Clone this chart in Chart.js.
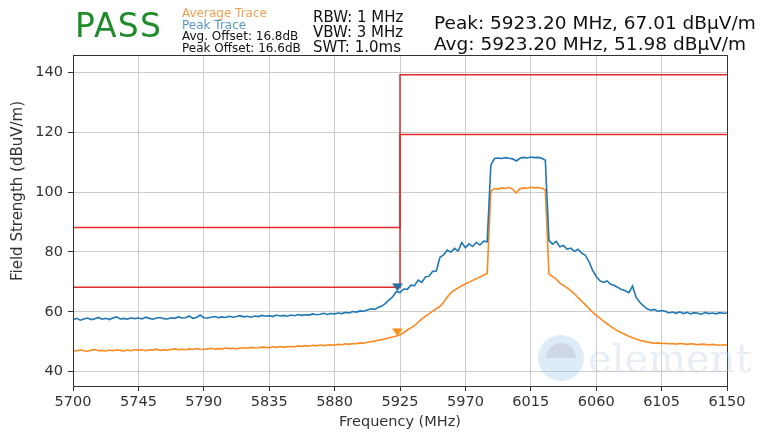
<!DOCTYPE html>
<html>
<head>
<meta charset="utf-8">
<script src="https://cdn.jsdelivr.net/npm/chart.js@4.4.1/dist/chart.umd.min.js"></script>
<style>
  html, body { margin: 0; padding: 0; background: #fff; }
  #wrap { position: relative; width: 763px; height: 433px; overflow: hidden; font-family: "DejaVu Sans", sans-serif; }
  #chart { position: absolute; left: 0; top: 0; }
  .hdr { position: absolute; white-space: pre; color: #111; }
  #pass { left: 75px; top: 9px; font-size: 33px; line-height: 33px; letter-spacing: 1.2px; color: #1f8b2a; }
  #legend { left: 182px; top: 8px; font-size: 12px; line-height: 11.55px; }
  #settings { left: 313px; top: 9.5px; font-size: 15px; line-height: 15.2px; }
  #readout { left: 434px; top: 12px; font-size: 18.5px; line-height: 21.3px; }
</style>
</head>
<body>
<div id="wrap">
  <canvas id="chart" width="763" height="433"></canvas>
  <div class="hdr" id="pass">PASS</div>
  <div class="hdr" id="legend"><span style="color:#f0a050">Average Trace</span><br><span style="color:#5a96c8">Peak Trace</span><br>Avg. Offset: 16.8dB<br>Peak Offset: 16.6dB</div>
  <div class="hdr" id="settings">RBW: 1 MHz<br>VBW: 3 MHz<br>SWT: 1.0ms</div>
  <div class="hdr" id="readout">Peak: 5923.20 MHz, 67.01 dBµV/m<br>Avg: 5923.20 MHz, 51.98 dBµV/m</div>
</div>
<script>
// --------------------
// Data
// --------------------
// sweep: 5700 MHz to 6150 MHz, one point every 2.5 MHz
const SWEEP_START = 5700;
const SWEEP_STEP = 2.5;

// peak detector trace (dBuV/m)
const peakTrace = [
  57.3, 57.8, 57.2, 57.6, 57.9, 57.4, 57.7, 58.1, 57.5, 57.8,
  57.4, 57.9, 58.3, 57.6, 57.8, 57.5, 58.0, 57.7, 57.9, 57.6,
  58.2, 57.8, 57.5, 57.9, 58.1, 57.7, 57.6, 58.0, 57.8, 58.3,
  57.9, 58.0, 58.6, 57.8, 58.1, 58.9, 58.0, 57.9, 58.2, 58.4,
  58.0, 58.3, 58.1, 58.5, 58.2, 58.4, 58.7, 58.3, 58.5, 58.2,
  58.6, 58.4, 58.8, 58.5, 58.7, 58.4, 58.9, 58.6, 58.8, 58.5,
  58.9, 58.7, 59.1, 58.8, 59.0, 58.9, 59.3, 59.0, 59.2, 59.5,
  59.1, 59.4, 59.3, 59.6, 59.4, 59.8, 59.6, 60.1, 59.9, 60.3,
  60.2, 60.6, 61.0, 60.8, 61.4, 61.9, 62.8, 64.0, 65.0, 66.8,
  66.4, 67.6, 67.5, 68.9, 68.7, 70.6, 69.8, 71.6, 71.9, 73.5,
  73.6, 78.2, 79.0, 80.6, 79.9, 81.2, 80.3, 83.1, 81.4, 82.7,
  81.8, 83.2, 82.3, 83.6, 83.4, 109.0, 111.2, 111.4, 111.2, 111.5,
  111.3, 111.1, 110.4, 111.3, 111.6, 111.4, 111.7, 111.5, 111.6, 111.3,
  110.6, 83.8, 82.6, 83.5, 81.7, 82.2, 80.9, 81.3, 80.2, 80.9,
  79.6, 78.9, 76.8, 73.9, 71.8, 70.4, 69.8, 70.3, 69.2, 68.8,
  68.1, 67.4, 67.0, 66.4, 68.6, 64.8, 63.2, 62.0, 61.0, 60.5,
  60.8, 60.1, 60.4, 60.2, 59.6, 59.9, 59.5, 60.0, 59.4, 59.8,
  59.3, 59.7, 59.5, 59.2, 59.8, 59.4, 59.6, 59.3, 59.7, 59.5,
  59.6
];

// average detector trace (dBuV/m)
const avgTrace = [
  47.1, 46.9, 47.3, 47.0, 46.8, 47.2, 47.4, 47.0, 47.1, 46.9,
  47.2, 47.0, 47.3, 47.1, 46.9, 47.2, 47.0, 47.4, 47.1, 47.3,
  47.0, 47.3, 47.2, 47.5, 47.1, 47.3, 47.2, 47.4, 47.6, 47.3,
  47.5, 47.3, 47.6, 47.4, 47.7, 47.5, 47.4, 47.6, 47.8, 47.5,
  47.7, 47.6, 47.9, 47.7, 47.8, 47.6, 47.9, 48.0, 47.8, 48.1,
  47.9, 48.0, 48.2, 48.1, 48.0, 48.3, 48.1, 48.4, 48.2, 48.3,
  48.4, 48.3, 48.6, 48.5, 48.7, 48.5, 48.8, 48.6, 48.9, 48.7,
  48.9, 49.0, 48.8, 49.1, 49.0, 49.3, 49.1, 49.4, 49.3, 49.6,
  49.5, 49.8, 50.0, 50.2, 50.5, 50.7, 51.0, 51.3, 51.6, 51.9,
  52.3, 53.0, 53.9, 54.6, 55.4, 56.5, 57.6, 58.5, 59.3, 60.2,
  61.0, 61.8, 63.2, 64.9, 66.3, 67.2, 68.0, 68.7, 69.3, 69.9,
  70.5, 71.0, 71.6, 72.2, 72.9, 100.2, 101.2, 101.0, 101.4, 101.2,
  101.5, 101.0, 99.7, 101.1, 101.4, 101.3, 101.6, 101.4, 101.5, 101.3,
  100.8, 72.6, 71.8, 70.9, 69.6, 68.8, 68.0, 67.1, 66.0, 64.7,
  63.6, 62.4, 61.1, 59.9, 58.8, 57.9, 56.9, 56.0, 55.1, 54.3,
  53.6, 53.0, 52.4, 51.8, 51.3, 50.9, 50.5, 50.2, 49.9, 49.7,
  49.5, 49.6, 49.4, 49.5, 49.3, 49.4, 49.2, 49.4, 49.3, 49.1,
  49.3, 49.2, 49.0, 49.2, 49.1, 48.9, 49.1, 49.0, 48.8, 49.0,
  48.9
];

// limit lines (step at the band edge)
const limitFreqs = [5700, 5925, 5925, 6150];
const peakLimit = [88.2, 88.2, 139.2, 139.2];
const avgLimit = [68.2, 68.2, 119.2, 119.2];

// worst-case markers
const markerFreq = 5923.20;
const peakMarker = 67.01;
const avgMarker = 51.98;

const xTicks = [5700, 5745, 5790, 5835, 5880, 5925, 5970, 6015, 6060, 6105, 6150];
const yTicks = [40, 60, 80, 100, 120, 140];

const xTitle = 'Frequency (MHz)';
const yTitle = 'Field Strength (dBuV/m)';
const watermark = 'element';

// Colors
const colors = {
  peak: '#1f77b4',
  avg: '#fb8a22',
  limit: '#de2b2b',
  grid: '#cccccc',
  axis: '#333333',
  peakMarker: '#2a6c9c',
  avgMarker: '#f7901e'
};

// --------------------
// Helpers
// --------------------
function toPoints(xs, ys) {
  return ys.map((y, i) => ({ x: xs[i], y: y }));
}

function sweepPoints(values) {
  return values.map((y, i) => ({ x: SWEEP_START + i * SWEEP_STEP, y: y }));
}

// down-pointing triangle with its tip at the centre of the image
function makeMarker(color) {
  const c = document.createElement('canvas');
  c.width = 12;
  c.height = 16;
  const g = c.getContext('2d');
  g.fillStyle = color;
  g.beginPath();
  g.moveTo(0.5, 0.5);
  g.lineTo(11.5, 0.5);
  g.lineTo(6, 8.5);
  g.closePath();
  g.fill();
  return c;
}

function lineSet(label, data, color, width) {
  return {
    label: label,
    data: data,
    borderColor: color,
    backgroundColor: color,
    borderWidth: width,
    pointRadius: 0,
    tension: 0,
    fill: false
  };
}

// --------------------
// Plugins
// --------------------
const framePlugin = {
  id: 'frame',
  afterDraw(chart) {
    const { ctx, chartArea: a } = chart;
    ctx.save();
    ctx.strokeStyle = colors.axis;
    ctx.lineWidth = 1;
    ctx.strokeRect(Math.round(a.left) + 0.5, Math.round(a.top) + 0.5,
      Math.round(a.right - a.left), Math.round(a.bottom - a.top));
    ctx.restore();
  }
};

const yTitlePlugin = {
  id: 'yTitle',
  afterDraw(chart) {
    const ctx = chart.ctx;
    ctx.save();
    ctx.translate(18.5, 191);
    ctx.rotate(-Math.PI / 2);
    ctx.font = '15px "DejaVu Sans"';
    ctx.fillStyle = colors.axis;
    ctx.textAlign = 'center';
    ctx.textBaseline = 'middle';
    ctx.fillText(yTitle, 0, 0);
    ctx.restore();
  }
};

const watermarkPlugin = {
  id: 'watermark',
  afterDraw(chart) {
    const ctx = chart.ctx;
    ctx.save();
    ctx.fillStyle = 'rgba(160, 200, 235, 0.35)';
    ctx.beginPath();
    ctx.arc(561, 358, 23, 0, Math.PI * 2);
    ctx.fill();
    ctx.fillStyle = 'rgba(190, 190, 210, 0.45)';
    ctx.beginPath();
    ctx.arc(561, 358, 15, Math.PI, 0);
    ctx.fill();
    ctx.font = '40px "DejaVu Serif"';
    ctx.fillStyle = 'rgba(185, 205, 225, 0.35)';
    ctx.textBaseline = 'alphabetic';
    ctx.fillText(watermark, 588, 372);
    ctx.restore();
  }
};

// --------------------
// Chart
// --------------------
const tickFont = { family: 'DejaVu Sans', size: 14.5 };

new Chart(document.getElementById('chart').getContext('2d'), {
  type: 'line',
  data: {
    datasets: [
      {
        label: 'Peak marker',
        data: [{ x: markerFreq, y: peakMarker }],
        showLine: false,
        pointStyle: makeMarker(colors.peakMarker)
      },
      {
        label: 'Avg marker',
        data: [{ x: markerFreq, y: avgMarker }],
        showLine: false,
        pointStyle: makeMarker(colors.avgMarker)
      },
      lineSet('Peak Limit', toPoints(limitFreqs, peakLimit), colors.limit, 1.5),
      lineSet('Avg Limit', toPoints(limitFreqs, avgLimit), colors.limit, 1.5),
      lineSet('Peak Trace', sweepPoints(peakTrace), colors.peak, 1.6),
      lineSet('Average Trace', sweepPoints(avgTrace), colors.avg, 1.6)
    ]
  },
  options: {
    responsive: false,
    animation: false,
    layout: { padding: { left: 0, right: 36, top: 55, bottom: 0 } },
    plugins: {
      legend: { display: false },
      tooltip: { enabled: false }
    },
    scales: {
      x: {
        type: 'linear',
        min: 5700,
        max: 6150,
        afterBuildTicks: s => { s.ticks = xTicks.map(v => ({ value: v })); },
        afterFit: s => { s.height = 47; },
        ticks: {
          autoSkip: false,
          maxRotation: 0,
          padding: 3,
          font: tickFont,
          color: colors.axis,
          callback: v => String(v)
        },
        grid: { color: colors.grid, tickColor: colors.axis, tickLength: 5, lineWidth: 1 },
        border: { color: colors.axis, width: 1 },
        title: {
          display: true,
          text: xTitle,
          font: { family: 'DejaVu Sans', size: 14.5 },
          color: colors.axis,
          padding: { top: 0, bottom: 2 }
        }
      },
      y: {
        type: 'linear',
        min: 35.2,
        max: 145.8,
        afterBuildTicks: s => { s.ticks = yTicks.map(v => ({ value: v })); },
        afterFit: s => { s.width = 73; },
        ticks: {
          padding: 5,
          font: tickFont,
          color: colors.axis,
          callback: v => String(v)
        },
        grid: { color: colors.grid, tickColor: colors.axis, tickLength: 5, lineWidth: 1 },
        border: { color: colors.axis, width: 1 }
      }
    }
  },
  plugins: [framePlugin, yTitlePlugin, watermarkPlugin]
});
</script>
</body>
</html>
